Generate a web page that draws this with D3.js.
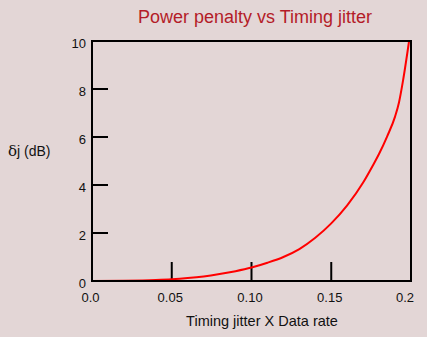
<!DOCTYPE html>
<html>
<head>
<meta charset="utf-8">
<script src="https://cdn.jsdelivr.net/npm/d3@7"></script>
<style>
  html, body { margin: 0; padding: 0; background: #e3d6d6; }
  svg { display: block; font-family: "Liberation Sans", Arial, sans-serif; }
</style>
</head>
<body>
<svg id="chart" width="427" height="337"></svg>
<script>
// Power penalty (dB) against normalised timing jitter
const jitter = [0, 0.02, 0.04, 0.05, 0.06, 0.07, 0.08, 0.09, 0.10, 0.11, 0.12, 0.13, 0.14, 0.15, 0.16, 0.17, 0.176, 0.18, 0.185, 0.19, 0.1925, 0.195, 0.1988];
const penalty = [0, 0.01, 0.04, 0.07, 0.12, 0.19, 0.29, 0.41, 0.56, 0.76, 1.0, 1.33, 1.8, 2.4, 3.15, 4.1, 4.8, 5.3, 6.02, 6.85, 7.45, 8.35, 10];
const xTicks = [0, 0.05, 0.10, 0.15, 0.2];
const xTickLabels = ["0.0", "0.05", "0.10", "0.15", "0.2"];
const yTicks = [0, 2, 4, 6, 8, 10];
const yTickLabels = ["0", "2", "4", "6", "8", "10"];

const svg = d3.select("#chart");
const plotLeft = 92, plotRight = 411, plotTop = 41, plotBottom = 281;

const x = d3.scaleLinear().domain([0, 0.2]).range([plotLeft, plotRight]);
const y = d3.scaleLinear().domain([0, 10]).range([plotBottom, plotTop]);

// title
svg.append("text")
  .attr("x", 255).attr("y", 23)
  .attr("text-anchor", "middle")
  .attr("fill", "#b41c28")
  .style("font-size", "18px")
  .text("Power penalty vs Timing jitter");

// inner tick marks
svg.append("g").selectAll("line")
  .data(yTicks.filter(d => d > 0 && d < 10))
  .join("line")
  .attr("x1", x(0)).attr("x2", x(0) + 16)
  .attr("y1", d => y(d)).attr("y2", d => y(d))
  .attr("stroke", "#000").attr("stroke-width", 2);

svg.append("g").selectAll("line")
  .data(xTicks.filter(d => d > 0 && d < 0.2))
  .join("line")
  .attr("x1", d => x(d)).attr("x2", d => x(d))
  .attr("y1", y(0)).attr("y2", y(0) - 19)
  .attr("stroke", "#000").attr("stroke-width", 2);

// curve
const line = d3.line()
  .x((d, i) => x(jitter[i]))
  .y(d => y(d))
  .curve(d3.curveMonotoneX);

svg.append("path")
  .datum(penalty)
  .attr("d", line)
  .attr("fill", "none")
  .attr("stroke", "#ff0000")
  .attr("stroke-width", 2);

// frame
svg.append("rect")
  .attr("x", x(0)).attr("y", y(10))
  .attr("width", x(0.2) - x(0)).attr("height", y(0) - y(10))
  .attr("fill", "none").attr("stroke", "#000").attr("stroke-width", 2);

// tick labels
svg.append("g").selectAll("text")
  .data(yTicks)
  .join("text")
  .attr("x", 86)
  .attr("y", d => y(d) + 7)
  .attr("text-anchor", "end")
  .attr("fill", "#111")
  .style("font-size", "13px")
  .text((d, i) => yTickLabels[i]);

svg.append("g").selectAll("text")
  .data(xTicks)
  .join("text")
  .attr("x", (d, i) => x(d) - (i === xTicks.length - 1 ? 6 : 1.5))
  .attr("y", 302)
  .attr("text-anchor", "middle")
  .attr("fill", "#111")
  .style("font-size", "13px")
  .text((d, i) => xTickLabels[i]);

// axis titles
svg.append("text")
  .attr("x", 262).attr("y", 326)
  .attr("text-anchor", "middle")
  .attr("fill", "#111")
  .style("font-size", "14.5px")
  .text("Timing jitter X Data rate");

const yl = svg.append("text")
  .attr("x", 8).attr("y", 156)
  .attr("fill", "#111")
  .style("font-size", "14px");
yl.append("tspan").style("font-family", "'DejaVu Serif', serif").style("font-size", "15px").style("font-weight", "300").text("δ");
yl.append("tspan").text("j (dB)");
</script>
</body>
</html>
